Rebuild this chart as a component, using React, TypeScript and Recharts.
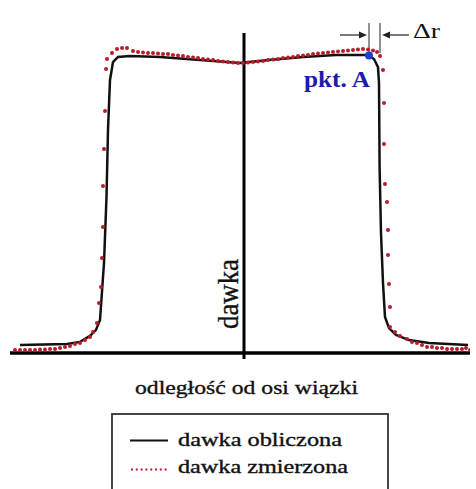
import {
  ComposedChart,
  Line,
  Scatter,
  XAxis,
  YAxis,
  ReferenceLine,
  ReferenceDot,
  Legend,
} from 'recharts';

// distance from beam axis (arbitrary units) and relative dose (%)
const calcX = [
  -112, -88.5, -82, -77, -74, -72, -70, -68.75, -68, -67, -65.5, -63, -57, -42, -22, -2, 12.5, 29.5, 46, 62,
  65, 67, 67.5, 67.8, 68.5, 69.5, 70.5, 72.5, 76, 82.5, 92.5, 112,
];
const calcY = [
  2.7, 3.0, 3.7, 5.7, 7.7, 11, 30, 52, 74.3, 91, 97, 98.7, 99, 98.7, 97.7, 96.7, 97.7, 98.7, 99.3, 99.3,
  98, 95.3, 90, 62, 40, 23.3, 12, 8.3, 6, 4.3, 3.3, 2.7,
];

const measX = [
  -114.5, -112, -109.5, -107, -104.5, -102, -99.5, -97, -94.5, -92, -89.5, -87, -84.5, -82, -79.5, -77, -75.5,
  -73.5, -72.5, -71.5, -71, -70.5, -70.5, -70, -69.5, -69, -68.5, -66, -63.5, -61, -58.5, -55.5, -53, -50.5,
  -48, -45.5, -43, -40.5, -38, -35.5, -33, -30.5, -28, -25.5, -23, -20.5, -18, -15.5, -13, -10.5, -8, -5.5, -3,
  -0.5, 2, 4.5, 7, 9.5, 12, 14.5, 17, 19.5, 22, 24.5, 27, 29.5, 32, 34.5, 37, 39.5, 42, 44.5, 47, 49.5, 52, 54.5,
  57, 59.5, 62, 64.5, 66.5, 68, 69.5, 70, 70, 70.5, 71.5, 72, 72, 72.5, 73, 73, 75.5, 78, 81.5, 84, 86.5, 89,
  91.5, 94, 96.5, 99, 101.5, 104, 106.5, 109, 111, 113,
];
const measY = [
  1, 1, 1, 1, 1, 1.2, 1.2, 1.3, 1.3, 1.7, 2, 2.3, 3, 3.3, 4.3, 5.3, 7, 10, 16.7, 22, 31.7, 42, 55.7, 68, 80.7,
  94.7, 98, 100, 101.3, 101.7, 101.7, 100.7, 100.3, 100.2, 100, 100, 99.8, 99.7, 99.7, 99.3, 99.2, 99, 98.7,
  98.5, 98.3, 98, 97.8, 97.7, 97.3, 97.2, 97, 96.8, 96.7, 96.7, 96.8, 97, 97.2, 97.3, 97.7, 97.8, 98, 98.3,
  98.5, 98.7, 99, 99.2, 99.3, 99.7, 99.8, 100, 100.2, 100.3, 100.5, 100.7, 100.8, 101, 101.2, 101.3, 101.2,
  100.8, 100.3, 99, 94.3, 83.3, 69.7, 56.3, 50.3, 41, 32.7, 23, 15.3, 8.7, 7, 5.7, 4.7, 3.7, 3.3, 2.7, 2, 2,
  1.7, 1.7, 1.3, 1.3, 1.3, 1.3, 1.7, 1,
];

const pointA = { x: 62.5, y: 99.2 };
const deltaLeft = 62.5;
const deltaRight = 68;

const seriesNames = ['dawka obliczona', 'dawka zmierzona'];
const xLabel = 'odległość od osi wiązki';
const yLabel = 'dawka';

const calcData = calcX.map((x, i) => ({ x, y: calcY[i] }));
const measData = measX.map((x, i) => ({ x, y: measY[i] }));

const serif = { fontFamily: "'Liberation Serif', 'Times New Roman', 'DejaVu Serif', serif" };
const RED = '#b81c28';

function Arrow(props: any) {
  const { x1, y1, x2, y2 } = props;
  const dir = x2 > x1 ? 1 : -1;
  return (
    <g>
      <line x1={x1} y1={y1} x2={x2 - dir * 5} y2={y2} stroke="#222" strokeWidth={1.2} />
      <polygon points={`${x2},${y2} ${x2 - dir * 8},${y2 - 3.5} ${x2 - dir * 8},${y2 + 3.5}`} fill="#222" />
    </g>
  );
}

function Dot(props: any) {
  return <circle cx={props.cx} cy={props.cy} r={2} fill={RED} />;
}

function LegendBox() {
  return (
    <svg width={279} height={90} style={{ display: 'block' }}>
      <rect x={1} y={1} width={276} height={100} fill="#fff" stroke="#333" strokeWidth={1.8} />
      <line x1={19} y1={27.5} x2={57} y2={27.5} stroke="#111" strokeWidth={2.2} />
      <line x1={20} y1={56.5} x2={58} y2={56.5} stroke={RED} strokeWidth={2.2} strokeDasharray="2 2.8" />
      <text x={67} y={32.5} style={serif} fontSize={18} fill="#111" stroke="#111" strokeWidth={0.35} textLength={164} lengthAdjust="spacingAndGlyphs">
        {seriesNames[0]}
      </text>
      <text x={67} y={60.2} style={serif} fontSize={18} fill="#111" stroke="#111" strokeWidth={0.35} textLength={170} lengthAdjust="spacingAndGlyphs">
        {seriesNames[1]}
      </text>
    </svg>
  );
}

export default function App() {
  return (
    <div
      style={{
        position: 'fixed',
        left: 0,
        top: 0,
        width: 476,
        height: 489,
        overflow: 'hidden',
        background: '#fff',
      }}
    >
      <ComposedChart width={476} height={489} margin={{ top: 20, right: 6, bottom: 130, left: 10 }}>
        <XAxis dataKey="x" type="number" domain={[-117, 113]} allowDataOverflow hide />
        <YAxis dataKey="y" type="number" domain={[-2, 111]} allowDataOverflow hide />
        <ReferenceLine y={0} stroke="#000" strokeWidth={3.5} />
        <ReferenceLine
          segment={[
            { x: 0, y: -2 },
            { x: 0, y: 106.7 },
          ]}
          stroke="#000"
          strokeWidth={3}
        />
        <Line
          data={calcData}
          dataKey="y"
          name={seriesNames[0]}
          type="linear"
          stroke="#111"
          strokeWidth={2.5}
          dot={false}
          isAnimationActive={false}
        />
        <Scatter
          data={measData}
          dataKey="y"
          name={seriesNames[1]}
          fill={RED}
          shape={Dot}
          isAnimationActive={false}
        />
        <ReferenceLine
          segment={[
            { x: deltaLeft, y: 99.5 },
            { x: deltaLeft, y: 110 },
          ]}
          stroke="#222"
          strokeWidth={1}
        />
        <ReferenceLine
          segment={[
            { x: deltaRight, y: 100 },
            { x: deltaRight, y: 110 },
          ]}
          stroke="#222"
          strokeWidth={1}
        />
        <ReferenceLine
          segment={[
            { x: 48, y: 106 },
            { x: 61.5, y: 106 },
          ]}
          shape={Arrow}
        />
        <ReferenceLine
          segment={[
            { x: 82.5, y: 106 },
            { x: 69, y: 106 },
          ]}
          shape={Arrow}
        />
        <ReferenceDot x={pointA.x} y={pointA.y} r={4} fill="#1f3fd0" stroke="none" />
        <Legend
          layout="horizontal"
          verticalAlign="middle"
          align="center"
          content={() => <LegendBox />}
          wrapperStyle={{ left: 111, top: 413, width: 279, height: 90 }}
        />
      </ComposedChart>
      <svg
        width={476}
        height={489}
        style={{ position: 'absolute', left: 0, top: 0, pointerEvents: 'none' }}
      >
        <text x={413} y={38} style={serif} fontSize={22} fill="#111" textLength={27} lengthAdjust="spacingAndGlyphs">
          Δr
        </text>
        <text
          x={304}
          y={87}
          style={serif}
          fontSize={24}
          fontWeight="bold"
          fill="#1a1ab0"
          textLength={66}
          lengthAdjust="spacingAndGlyphs"
        >
          pkt. A
        </text>
        <g transform="translate(238,294) rotate(-90) scale(1,1.2)">
          <text x={0} y={0} textAnchor="middle" style={serif} fontSize={24} fill="#111" stroke="#111" strokeWidth={0.3} textLength={70} lengthAdjust="spacingAndGlyphs">
            {yLabel}
          </text>
        </g>
        <text x={135} y={394} style={serif} fontSize={19} fill="#111" stroke="#111" strokeWidth={0.35} textLength={223} lengthAdjust="spacingAndGlyphs">
          {xLabel}
        </text>
      </svg>
    </div>
  );
}
